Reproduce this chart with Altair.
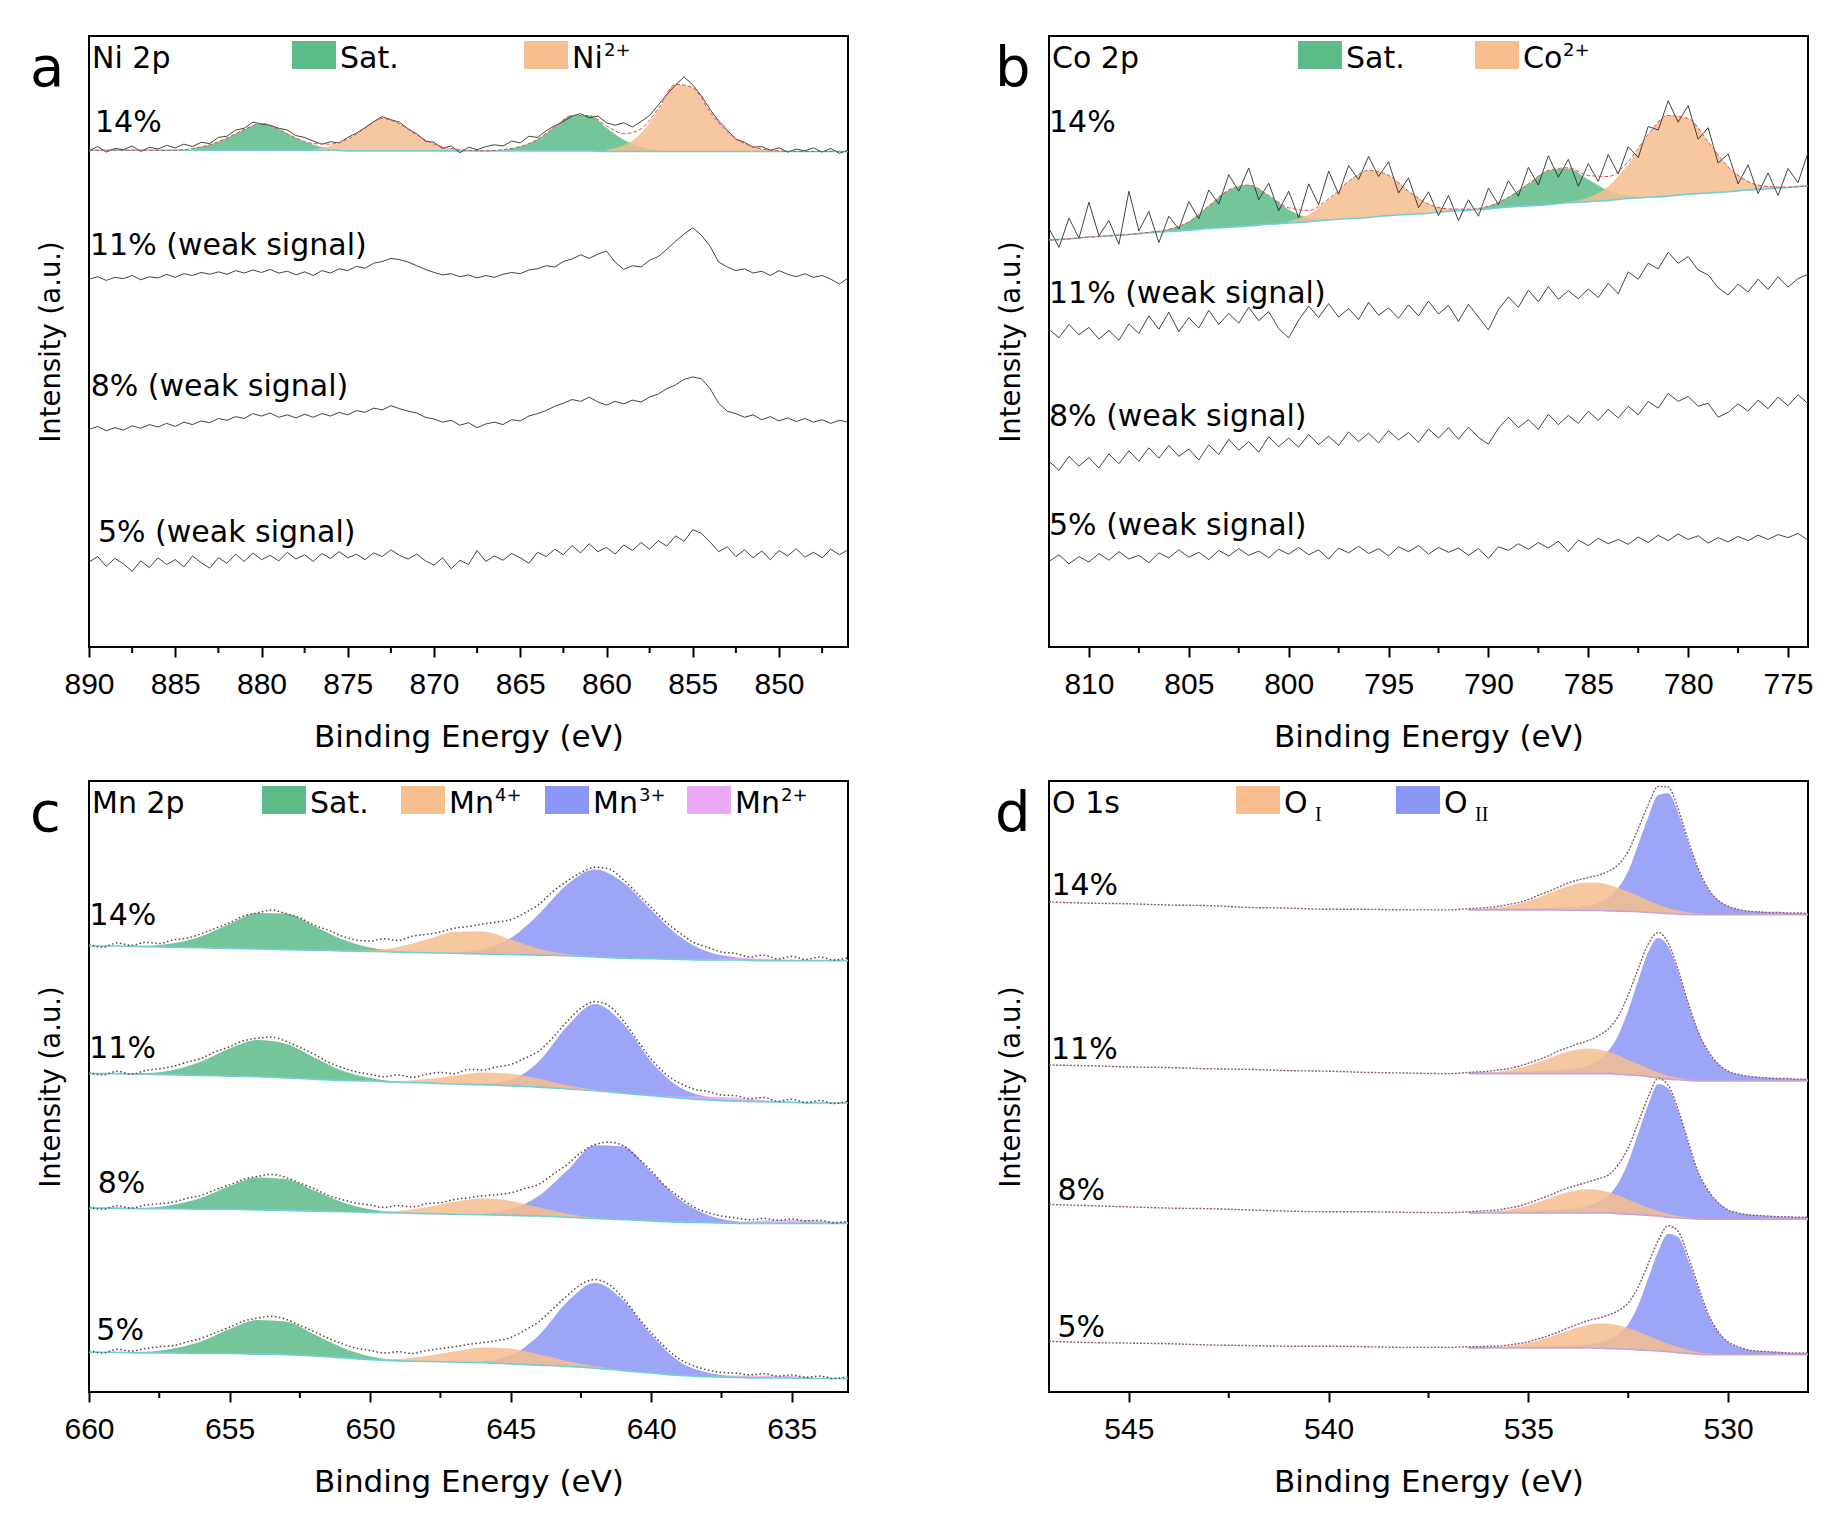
import altair as alt
import pandas as pd

# ======================= DATA (y in % of panel height) ===========
# ---------- Panel a: Ni 2p ----------
NI_RAW_X0, NI_RAW_STEP = 890.0, -0.5
NI14_RAW = [81.2, 81.9, 81.0, 81.6, 81.4, 82.0, 81.1, 81.8, 81.5, 82.1,
            81.7, 82.3, 81.9, 82.6, 82.4, 83.4, 83.6, 84.6, 84.9, 85.9,
            85.6, 85.4, 84.9, 84.6, 83.7, 83.4, 82.8, 82.3, 82.7, 82.5,
            83.4, 84.1, 85.0, 86.0, 86.8, 86.3, 85.9, 84.8, 84.0, 82.8,
            82.6, 81.6, 82.0, 80.9, 81.8, 81.4, 81.9, 82.2, 82.0, 82.8,
            82.5, 83.6, 83.4, 84.5, 85.3, 86.0, 86.9, 87.3, 86.6, 86.9,
            85.8, 85.4, 85.8, 85.1, 86.0, 87.0, 88.7, 90.4, 92.0, 93.3,
            92.0, 90.2, 88.0, 86.1, 84.6, 83.1, 82.6, 81.8, 81.9, 81.3,
            81.7, 81.0, 81.5, 81.2, 81.7, 81.0, 81.6, 80.8, 81.3]
NI11_RAW = [60.2, 60.6, 60.0, 60.5, 60.3, 60.8, 60.1, 60.6, 60.4, 61.0,
            60.5, 61.1, 60.8, 61.3, 61.0, 61.4, 61.0, 61.6, 61.2, 61.7,
            61.3, 61.8, 61.2, 61.5, 60.9, 61.4, 60.8, 61.6, 61.2, 61.9,
            61.6, 62.3, 62.0, 62.8, 63.1, 63.6, 63.4, 63.0, 62.4, 61.8,
            61.3, 60.9, 61.1, 60.6, 60.9, 60.4, 60.8, 60.5, 61.0, 61.3,
            61.1, 61.7, 61.9, 62.4, 62.2, 63.1, 63.5, 64.2, 63.6, 64.3,
            64.8, 63.0, 61.8, 62.4, 62.2, 63.3, 63.9, 65.1, 66.4, 67.6,
            68.6, 67.4, 65.6, 63.0, 62.2, 61.6, 61.9, 61.2, 61.5, 60.8,
            61.6, 61.0, 60.6, 61.1, 60.5, 60.8, 60.2, 59.4, 60.4]
NI8_RAW = [35.6, 36.1, 35.4, 35.9, 35.5, 36.2, 35.8, 36.4, 36.0, 36.6,
           36.1, 36.8, 36.4, 37.0, 36.7, 37.4, 37.1, 37.7, 37.4, 38.2,
           37.8, 38.3, 37.6, 38.0, 37.5, 38.1, 37.6, 38.2, 37.8, 38.4,
           38.0, 38.7, 38.4, 39.1, 38.8, 39.5, 39.0, 38.6, 38.3, 37.6,
           37.3, 36.8, 37.1, 36.3, 36.7, 35.9, 36.5, 36.8, 36.4, 37.2,
           37.0, 37.8, 38.2, 38.7, 39.4, 39.9, 40.5, 40.2, 40.9, 40.1,
           39.6, 40.2, 39.8, 40.4, 40.1, 40.9, 41.4, 42.3, 42.9, 43.8,
           44.2, 43.9, 42.3, 39.9, 38.6, 38.2, 37.6, 38.0, 37.2, 37.7,
           37.0, 37.5, 36.9, 37.4, 36.8, 37.2, 36.6, 37.1, 36.8]
NI5_RAW = [13.9, 14.8, 13.2, 14.5, 13.6, 12.4, 14.1, 13.0, 14.6, 13.5,
           14.3, 13.1, 14.9, 13.8, 12.9, 14.6, 13.7, 15.2, 14.0, 15.4,
           14.3, 15.0, 14.1, 15.5, 14.4, 15.1, 14.0, 15.3, 14.5, 15.6,
           14.6, 15.2, 14.3, 15.4, 14.8, 15.9, 15.0, 14.4, 15.2, 14.1,
           13.4, 14.6, 12.8, 14.2, 13.5, 15.8, 14.0, 14.9, 14.2, 15.3,
           14.6, 13.7, 15.5, 14.8, 16.0, 15.1, 16.6, 15.4, 16.9, 15.6,
           16.3, 15.2, 16.7, 15.8, 17.1, 16.0, 17.4, 16.5, 18.2, 17.3,
           19.2, 18.6, 17.2, 15.6, 16.4, 14.8, 15.9, 14.6, 15.7, 14.3,
           15.8, 14.9, 16.1, 14.7, 15.5, 14.6, 16.0, 15.1, 15.9]
NI_FIT_X0, NI_FIT_STEP = 890.0, -1.0
NI14_BG = [81.3, 81.3, 81.3, 81.3, 81.3, 81.3, 81.3, 81.3, 81.3, 81.3, 81.3, 81.3, 81.3, 81.3, 81.3,
           81.2, 81.2, 81.2, 81.2, 81.2, 81.2, 81.2, 81.2, 81.2, 81.2, 81.2, 81.2, 81.2, 81.2, 81.2,
           81.1, 81.1, 81.1, 81.1, 81.1, 81.1, 81.1, 81.1, 81.1, 81.1, 81.1, 81.1, 81.1, 81.1, 81.1]
NI14_SAT_1 = (884.0, [0.3, 0.9, 2.0, 3.4, 4.4, 3.4, 2.0, 0.9, 0.3, 0.1])
NI14_NI2_1 = (877.0, [0.2, 0.7, 1.8, 3.7, 5.3, 4.4, 2.6, 1.1, 0.4, 0.1])
NI14_SAT_2 = (866.0, [0.2, 0.7, 1.9, 3.9, 5.8, 5.8, 3.9, 1.9, 0.7, 0.2])
NI14_NI2_2 = (860.0, [0.3, 1.0, 3.0, 6.8, 11.0, 10.4, 6.5, 3.2, 1.3, 0.4, 0.1])

# ---------- Panel b: Co 2p ----------
CO_RAW_X0, CO_RAW_STEP = 812.0, -0.5
CO14_RAW = [68.5, 65.4, 70.2, 66.9, 72.8, 67.3, 69.8, 65.9, 74.6, 68.1,
            71.3, 66.2, 70.5, 68.4, 72.9, 70.1, 74.8, 72.5, 77.3, 74.6,
            78.4, 73.2, 75.9, 71.4, 74.6, 70.3, 75.8, 72.4, 77.9, 74.1,
            78.8, 76.5, 80.3, 77.0, 79.4, 74.3, 76.8, 71.9, 74.5, 70.6,
            73.9, 69.8, 73.2, 70.5, 75.1, 72.4, 76.3, 73.8, 78.5, 75.6,
            80.4, 76.9, 79.8, 75.4, 79.1, 76.2, 80.6, 77.4, 81.9, 80.1,
            85.2, 84.6, 89.4, 85.9, 88.6, 83.1, 85.0, 79.2, 80.7, 75.8,
            78.9, 74.2, 77.6, 73.9, 78.3, 76.0, 80.9]
CO11_RAW = [52.0, 50.6, 52.8, 51.1, 52.3, 50.4, 51.8, 50.2, 52.9, 51.3,
            54.2, 52.0, 54.8, 51.6, 53.9, 52.2, 55.1, 52.8, 54.6, 53.0,
            55.6, 53.4, 54.9, 52.1, 50.6, 53.5, 55.8, 53.9, 56.2, 54.0,
            55.4, 53.6, 56.4, 54.3, 55.5, 53.8, 56.0, 54.2, 56.6, 54.5,
            55.9, 53.3, 56.1, 54.0, 51.9, 55.2, 57.3, 55.6, 58.4, 56.5,
            59.0, 56.9, 58.3, 57.0, 58.6, 57.2, 59.5, 57.8, 61.4, 60.2,
            62.8, 61.9, 64.6, 62.8, 63.9, 61.7, 60.9, 58.8, 57.6, 59.4,
            58.1, 60.2, 58.5, 60.6, 58.9, 60.3, 61.0]
CO8_RAW = [30.4, 28.9, 31.2, 29.6, 31.0, 29.3, 31.6, 30.0, 32.1, 30.4,
           32.6, 30.9, 33.0, 31.2, 32.4, 30.6, 33.1, 31.5, 34.0, 32.2,
           33.6, 31.9, 34.4, 32.8, 34.2, 32.7, 34.8, 33.1, 34.5, 33.0,
           35.2, 33.6, 35.0, 33.4, 35.4, 33.9, 35.1, 33.5, 35.7, 34.2,
           35.9, 34.0, 36.0, 34.3, 33.2, 35.8, 37.6, 35.9, 37.2, 35.6,
           38.1, 36.4, 37.9, 36.6, 38.6, 37.1, 38.9, 37.5, 39.4, 38.0,
           40.2, 39.1, 41.5, 40.2, 41.0, 39.4, 39.9, 37.6, 38.4, 39.8,
           38.6, 40.4, 39.0, 40.9, 39.5, 41.3, 39.8]
CO5_RAW = [14.0, 15.1, 13.6, 14.8, 13.9, 15.3, 14.2, 15.6, 14.4, 15.0,
           13.8, 15.4, 14.6, 15.9, 14.7, 15.5, 14.3, 15.8, 14.9, 16.1,
           15.0, 15.7, 14.6, 16.0, 15.2, 16.3, 15.1, 15.9, 14.4, 16.2,
           15.4, 16.5, 15.3, 16.1, 14.9, 16.4, 15.6, 16.6, 15.2, 16.3,
           15.5, 16.2, 15.0, 16.1, 14.5, 16.4, 15.8, 16.9, 16.0, 17.1,
           16.2, 17.3, 15.6, 17.5, 16.6, 17.8, 16.9, 17.6, 16.8, 18.0,
           17.1, 18.3, 17.4, 18.5, 17.6, 18.2, 17.0, 17.9, 17.2, 18.1,
           17.4, 18.3, 17.6, 18.4, 17.9, 18.6, 17.5]
CO_FIT_X0, CO_FIT_STEP = 812.0, -1.0
CO14_BG = [66.6, 66.8, 67.1, 67.3, 67.5, 67.8, 68.0, 68.2, 68.5, 68.7, 68.9, 69.2, 69.4,
           69.6, 69.9, 70.1, 70.3, 70.6, 70.8, 71.0, 71.3, 71.5, 71.7, 72.0, 72.2, 72.4,
           72.7, 72.9, 73.1, 73.4, 73.6, 73.8, 74.1, 74.3, 74.5, 74.8, 75.0, 75.2, 75.5]
CO14_SAT_1 = (807.0, [0.06, 0.37, 1.4, 3.7, 6.1, 6.7, 4.7, 2.2, 0.66, 0.13])
CO14_CO2_1 = (800.0, [0.29, 1.2, 3.3, 6.1, 7.7, 6.6, 3.8, 1.5, 0.4, 0.07])
CO14_SAT_2 = (791.0, [0.09, 0.45, 1.6, 3.6, 5.6, 5.6, 3.6, 1.6, 0.45, 0.09])
CO14_CO2_2 = (786.0, [0.14, 0.66, 2.3, 5.6, 10.2, 13.2, 12.4, 8.4, 4.1, 1.4, 0.37, 0.07, 0.01])

# ---------- Panel c: Mn 2p ----------
MN_RAW_X0, MN_RAW_STEP = 660.0, -0.5
MN14_RAW = [73.3, 72.8, 73.5, 73.1, 73.6, 73.4, 74.0, 74.3, 75.0, 75.9,
            76.8, 77.9, 78.4, 78.9, 78.3, 77.6, 76.4, 75.6, 74.6, 74.0,
            73.8, 74.2, 73.9, 74.6, 74.9, 75.3, 75.9, 76.2, 76.6, 76.9,
            77.3, 78.4, 79.8, 81.9, 83.6, 85.0, 85.9, 85.6, 83.9, 81.6,
            79.3, 77.0, 75.2, 73.6, 72.8, 72.0, 71.8, 71.2, 71.5, 70.9,
            71.3, 70.8, 71.2, 70.7, 71.1]
MN11_RAW = [52.3, 51.9, 52.5, 52.0, 52.6, 52.9, 53.3, 54.0, 54.6, 55.7,
            56.5, 57.5, 57.9, 58.1, 57.4, 56.4, 55.3, 54.0, 53.1, 52.4,
            52.0, 51.6, 51.9, 51.5, 52.0, 52.3, 52.1, 52.8, 52.7, 53.2,
            53.6, 54.6, 55.8, 58.0, 60.6, 62.8, 63.9, 63.2, 60.8, 57.6,
            54.5, 52.1, 50.6, 49.6, 49.2, 48.6, 48.5, 48.0, 48.2, 47.6,
            47.9, 47.4, 47.7, 47.2, 47.6]
MN8_RAW = [30.3, 29.9, 30.5, 30.1, 30.6, 30.8, 31.1, 31.7, 32.2, 33.1,
           33.9, 34.8, 35.3, 35.6, 35.1, 34.2, 33.3, 32.2, 31.5, 30.9,
           30.6, 30.2, 30.5, 30.3, 30.8, 31.0, 31.5, 31.8, 32.1, 32.3,
           32.6, 33.3, 34.0, 35.6, 37.2, 39.2, 40.5, 40.9, 40.3, 38.4,
           36.2, 33.7, 31.9, 30.3, 29.4, 28.8, 28.5, 28.2, 28.4, 28.1,
           28.3, 28.0, 28.1, 27.7, 27.9]
MN5_RAW = [6.8, 6.4, 7.0, 6.7, 7.1, 7.4, 7.6, 8.2, 8.8, 9.7,
           10.6, 11.6, 12.1, 12.4, 11.9, 10.9, 9.9, 8.8, 7.9, 7.2,
           6.8, 6.4, 6.6, 6.3, 6.8, 7.1, 7.4, 7.8, 8.1, 8.4,
           8.9, 10.1, 11.5, 13.6, 15.7, 17.6, 18.4, 17.6, 15.4, 12.4,
           9.7, 7.3, 5.4, 4.3, 3.6, 3.2, 3.1, 2.8, 3.0, 2.6,
           2.8, 2.4, 2.6, 2.2, 2.5]
MN_FIT_X0, MN_FIT_STEP = 660.0, -1.0
MN14_BG = [73.0, 73.0, 72.9, 72.8, 72.7, 72.6, 72.5, 72.4, 72.3, 72.2, 72.1, 72.0, 71.9, 71.8,
           71.7, 71.6, 71.5, 71.4, 71.2, 71.0, 70.9, 70.8, 70.7, 70.7, 70.6, 70.6, 70.6, 70.6]
MN11_BG = [52.1, 52.1, 52.0, 51.9, 51.8, 51.7, 51.6, 51.4, 51.2, 51.0, 50.9, 50.7, 50.6, 50.4,
           50.3, 50.1, 49.9, 49.6, 49.3, 48.9, 48.5, 48.1, 47.8, 47.6, 47.5, 47.4, 47.3, 47.3]
MN8_BG = [30.1, 30.1, 30.0, 30.0, 29.9, 29.9, 29.8, 29.7, 29.6, 29.5, 29.4, 29.3, 29.2, 29.1,
          29.0, 28.9, 28.8, 28.6, 28.4, 28.2, 28.0, 27.8, 27.7, 27.6, 27.6, 27.6, 27.6, 27.6]
MN5_BG = [6.5, 6.5, 6.4, 6.4, 6.3, 6.3, 6.2, 6.1, 5.9, 5.6, 5.3, 5.1, 5.0, 4.9,
          4.8, 4.6, 4.4, 4.2, 3.9, 3.5, 3.1, 2.7, 2.5, 2.4, 2.3, 2.3, 2.2, 2.2]
MN14_SAT = (659.0, [0.02, 0.14, 0.64, 1.9, 4.0, 5.9, 5.9, 4.0, 1.9, 0.64, 0.14, 0.02])
MN14_MN4 = (651.0, [0.04, 0.21, 0.85, 2.15, 3.5, 3.67, 2.46, 1.06, 0.29, 0.05])
MN14_MN3 = (647.0, [0.16, 0.78, 2.7, 6.7, 11.6, 14.3, 12.4, 8.0, 3.8, 1.4, 0.45, 0.12, 0.03])
MN14_MN2 = (639.0, [0.05, 0.15, 0.32, 0.32, 0.15, 0.05, 0.01])
MN11_SAT = (659.0, [0.04, 0.2, 0.82, 2.3, 4.5, 6.0, 5.6, 3.6, 1.6, 0.5, 0.1, 0.02])
MN11_MN4 = (650.0, [0.04, 0.19, 0.62, 1.35, 2.0, 2.0, 1.35, 0.62, 0.19, 0.04])
MN11_MN3 = (646.0, [0.14, 1.0, 4.2, 10.2, 14.2, 11.4, 5.6, 1.8, 0.5, 0.12, 0.03])
MN11_MN2 = (640.0, [0.05, 0.25, 0.55, 0.55, 0.25, 0.05])
MN8_SAT = (659.0, [0.03, 0.16, 0.66, 1.9, 3.8, 5.3, 5.15, 3.4, 1.6, 0.5, 0.11, 0.02])
MN8_MN4 = (650.0, [0.09, 0.36, 1.05, 2.04, 2.67, 2.38, 1.43, 0.58, 0.16, 0.03])
MN8_MN3 = (646.0, [0.18, 0.95, 3.3, 7.6, 12.0, 12.0, 8.0, 3.8, 1.3, 0.35, 0.08])
MN8_MN2 = (638.0, [0.05, 0.2, 0.45, 0.55, 0.4, 0.2])
MN5_SAT = (659.0, [0.03, 0.17, 0.7, 2.0, 4.0, 5.6, 5.45, 3.6, 1.7, 0.53, 0.12, 0.02])
MN5_MN4 = (650.0, [0.08, 0.31, 0.88, 1.76, 2.5, 2.5, 1.76, 0.88, 0.31, 0.08])
MN5_MN3 = (646.0, [0.26, 1.4, 4.9, 10.5, 13.97, 11.5, 6.3, 2.3, 0.7, 0.15, 0.04])
MN5_MN2 = (638.0, [0.1, 0.3, 0.4, 0.3, 0.1, 0.03])

# ---------- Panel d: O 1s ----------
O_RAW_X = [547, 546, 545, 544, 543, 542, 541, 540, 539, 538, 537,
           536.5, 536.25, 536.0, 535.75, 535.5, 535.25, 535.0, 534.75, 534.5, 534.25,
           534.0, 533.75, 533.5, 533.25, 533.0, 532.75, 532.5, 532.25, 532.0, 531.75,
           531.5, 531.25, 531.0, 530.75, 530.5, 530.25, 530.0, 529.75, 529.5, 529.25,
           529.0, 528.75, 528.5, 528.25, 528.0]
O14_RAW = [80.2, 80.0, 79.9, 79.7, 79.6, 79.3, 79.2, 79.0, 79.0, 78.9, 78.9,
           79.1, 79.2, 79.3, 79.5, 79.8, 80.1, 80.6, 81.3, 81.9, 82.6, 83.3, 83.8, 84.2, 84.6,
           85.2, 86.3, 88.5, 92.2, 96.1, 99.1, 99.0, 95.4, 90.3, 85.7, 82.4, 80.5, 79.5, 79.0,
           78.7, 78.6, 78.5, 78.5, 78.4, 78.4, 78.3]
O11_RAW = [53.5, 53.4, 53.2, 53.1, 52.9, 52.8, 52.6, 52.5, 52.3, 52.2, 52.1,
           52.3, 52.4, 52.5, 52.7, 52.9, 53.3, 53.8, 54.4, 55.0, 55.8, 56.4, 57.0, 57.5, 58.3,
           59.4, 61.5, 65.0, 69.3, 73.3, 75.2, 73.5, 69.1, 63.7, 59.0, 55.8, 53.7, 52.5, 52.0,
           51.7, 51.5, 51.4, 51.3, 51.3, 51.2, 51.2]
O8_RAW = [30.7, 30.5, 30.3, 30.1, 30.0, 29.8, 29.6, 29.5, 29.5, 29.4, 29.35,
          29.5, 29.6, 29.7, 29.8, 30.1, 30.4, 30.9, 31.5, 32.1, 32.8, 33.4, 33.9, 34.4, 34.9,
          35.5, 37.2, 40.0, 44.1, 48.3, 51.3, 50.2, 46.2, 41.0, 36.0, 33.0, 31.0, 29.8, 29.3,
          29.0, 28.9, 28.8, 28.7, 28.7, 28.6, 28.6]
O5_RAW = [8.3, 8.1, 8.0, 7.9, 7.7, 7.6, 7.5, 7.5, 7.4, 7.3, 7.3,
          7.4, 7.4, 7.5, 7.5, 7.7, 7.9, 8.2, 8.7, 9.2, 9.8, 10.5, 11.1, 11.7, 12.1,
          12.6, 13.3, 14.6, 17.2, 21.0, 24.8, 27.2, 26.3, 22.2, 17.4, 12.8, 9.9, 8.2, 7.4,
          6.9, 6.7, 6.6, 6.5, 6.4, 6.4, 6.4]
O_FIT_X0, O_FIT_STEP = 536.5, -0.25
O14_BG = [78.9, 78.9, 78.9, 78.9, 78.9, 78.9, 78.9, 78.9, 78.9, 78.9, 78.85, 78.85, 78.8, 78.8,
          78.75, 78.7, 78.65, 78.6, 78.5, 78.4, 78.3, 78.2, 78.15, 78.1, 78.1, 78.1, 78.1, 78.1,
          78.1, 78.1, 78.1, 78.1, 78.1, 78.1, 78.1]
O14_OI = (536.5, [0.06, 0.12, 0.23, 0.4, 0.65, 1.0, 1.47, 2.05, 2.69, 3.34, 3.92, 4.36, 4.58,
                  4.55, 4.28, 3.81, 3.21, 2.56, 1.93, 1.37, 0.93, 0.59, 0.36, 0.2, 0.11, 0.05,
                  0.03, 0.01, 0, 0, 0, 0, 0, 0, 0])
O14_OII = (536.5, [0.16, 0.16, 0.18, 0.2, 0.22, 0.24, 0.26, 0.3, 0.34, 0.4, 0.5, 0.6, 0.8,
                   1.24, 2.1, 3.8, 6.6, 11.0, 15.6, 19.3, 19.7, 16.6, 11.8, 7.4, 4.2, 2.4, 1.4,
                   0.9, 0.64, 0.52, 0.42, 0.36, 0.3, 0.26, 0.22])
O11_BG = [52.1, 52.1, 52.1, 52.1, 52.1, 52.1, 52.1, 52.1, 52.1, 52.1, 52.1, 52.1, 52.1, 52.1,
          52.1, 52.0, 51.9, 51.8, 51.6, 51.4, 51.2, 51.1, 51.0, 50.9, 50.9, 50.9, 50.9, 50.9,
          50.9, 50.9, 50.9, 50.9, 50.9, 50.9, 50.9]
O11_OI = (536.5, [0.05, 0.09, 0.18, 0.33, 0.55, 0.89, 1.33, 1.88, 2.49, 3.1, 3.62, 3.97, 4.1,
                  3.97, 3.62, 3.1, 2.49, 1.88, 1.33, 0.89, 0.55, 0.33, 0.18, 0.09, 0.05, 0.02,
                  0, 0, 0, 0, 0, 0, 0, 0, 0])
O11_OII = (536.5, [0.19, 0.2, 0.22, 0.24, 0.27, 0.3, 0.34, 0.4, 0.46, 0.55, 0.71, 0.92, 1.33,
                   2.2, 3.7, 6.4, 10.6, 15.6, 20.4, 22.9, 21.7, 17.7, 12.5, 8.05, 4.8, 2.8, 1.6,
                   1.06, 0.78, 0.6, 0.5, 0.42, 0.36, 0.32, 0.28])
O8_BG = [29.3, 29.3, 29.3, 29.3, 29.3, 29.3, 29.3, 29.3, 29.3, 29.3, 29.3, 29.3, 29.3, 29.3,
         29.3, 29.2, 29.1, 29.0, 28.9, 28.8, 28.6, 28.5, 28.4, 28.3, 28.3, 28.3, 28.3, 28.3,
         28.3, 28.3, 28.3, 28.3, 28.3, 28.3, 28.3]
O8_OI = (536.5, [0.05, 0.09, 0.17, 0.31, 0.52, 0.85, 1.26, 1.79, 2.37, 2.95, 3.44, 3.78, 3.9,
                 3.78, 3.44, 2.95, 2.37, 1.79, 1.26, 0.85, 0.52, 0.31, 0.17, 0.09, 0.05, 0.02,
                 0, 0, 0, 0, 0, 0, 0, 0, 0])
O8_OII = (536.5, [0.18, 0.19, 0.21, 0.23, 0.26, 0.29, 0.33, 0.38, 0.44, 0.52, 0.66, 0.85, 1.2,
                  1.8, 2.8, 5.0, 8.5, 13.3, 18.1, 21.6, 21.1, 17.4, 12.4, 7.6, 4.6, 2.7, 1.5,
                  1.0, 0.74, 0.58, 0.48, 0.4, 0.35, 0.31, 0.27])
O5_BG = [7.2, 7.2, 7.2, 7.2, 7.2, 7.2, 7.2, 7.2, 7.2, 7.2, 7.2, 7.2, 7.2, 7.15, 7.1, 7.05, 7.0,
         6.9, 6.8, 6.7, 6.6, 6.45, 6.3, 6.2, 6.1, 6.1, 6.1, 6.1, 6.1, 6.1, 6.1, 6.1, 6.1, 6.1, 6.1]
O5_OI = (536.5, [0.02, 0.05, 0.1, 0.18, 0.32, 0.53, 0.82, 1.22, 1.72, 2.28, 2.86, 3.4, 3.82,
                 4.06, 4.08, 3.88, 3.49, 2.97, 2.39, 1.82, 1.31, 0.9, 0.58, 0.35, 0.2, 0.11,
                 0.06, 0.03, 0.01, 0, 0, 0, 0, 0, 0])
O5_OII = (536.5, [0.14, 0.14, 0.16, 0.16, 0.18, 0.2, 0.22, 0.25, 0.29, 0.35, 0.41, 0.51, 0.63,
                  0.86, 1.37, 2.35, 4.1, 7.3, 11.8, 16.3, 19.3, 18.9, 15.3, 10.8, 6.5, 3.7, 2.06,
                  1.22, 0.78, 0.59, 0.49, 0.39, 0.33, 0.29, 0.25])

# ---------- axis ticks and sample labels ----------
NI_MAJOR = [890, 885, 880, 875, 870, 865, 860, 855, 850]
NI_MINOR = [887.5, 882.5, 877.5, 872.5, 867.5, 862.5, 857.5, 852.5, 847.5]
CO_MAJOR = [810, 805, 800, 795, 790, 785, 780, 775]
CO_MINOR = [807.5, 802.5, 797.5, 792.5, 787.5, 782.5, 777.5]
MN_MAJOR = [660, 655, 650, 645, 640, 635]
MN_MINOR = [657.5, 652.5, 647.5, 642.5, 637.5]
O_MAJOR = [545, 540, 535, 530]
O_MINOR = [542.5, 537.5, 532.5]
NI_LABELS = ["14%", "11% (weak signal)", "8% (weak signal)", "5% (weak signal)"]
CO_LABELS = ["14%", "11% (weak signal)", "8% (weak signal)", "5% (weak signal)"]
MN_LABELS = ["14%", "11%", "8%", "5%"]
O_LABELS = ["14%", "11%", "8%", "5%"]

# ======================= STYLE / LAYOUT =======================
W, H = 759, 611
FONT = "DejaVu Sans"
LEG_SIZE = 30
LEG_BASE = 32
GREEN, ORANGE, BLUE, PINK = "#5cbc88", "#f6bd8e", "#8c96f4", "#e8a8f4"
FILL = {"Sat": GREEN, "Low": ORANGE, "Mid": BLUE, "Pink": PINK}
ONE = pd.DataFrame({"k": [0]})

NI_LABEL_POS = [(889.65, 84.3), (889.94, 64.2), (889.9, 41.1), (889.48, 17.2)]
CO_LABEL_POS = [(812.0, 84.3), (812.0, 56.3), (812.0, 36.2), (812.0, 18.3)]
MN_LABEL_POS = [(659.98, 76.5), (659.99, 54.6), (659.69, 32.5), (659.74, 8.5)]
O_LABEL_POS = [(546.94, 81.3), (546.95, 54.5), (546.79, 31.5), (546.79, 9.0)]


def raw_rows(xs, vals, key):
    return [{"x": x, "y": v, "key": key} for x, v in zip(xs, vals)]


def grid(x0, step, n):
    return [round(x0 + step * i, 3) for i in range(n)]


def comp_rows(x0, step, bg, comps, key):
    rows = []
    for name, (start, hs) in comps:
        for i, h in enumerate(hs):
            x = round(start + step * i, 3)
            k = int(round((x - x0) / step))
            rows.append({"x": x, "y": bg[k] + h, "y2": bg[k], "comp": name,
                         "key": f"{key}-{name}-{start}"})
    return rows


def env_rows(x0, step, bg, comps, key):
    tot = list(bg)
    for name, (start, hs) in comps:
        for i, h in enumerate(hs):
            k = int(round((start + step * i - x0) / step))
            tot[k] += h
    return [{"x": round(x0 + step * k, 3), "y": v, "key": key} for k, v in enumerate(tot)]


def ptext(txt, px, py, size, font=FONT):
    return alt.Chart(ONE).mark_text(text=txt, fontSize=size, font=font, align="left",
                                    baseline="alphabetic", color="black").encode(
        x=alt.value(px), y=alt.value(py))


def swatch(x0, color):
    return alt.Chart(ONE).mark_rect(color=color).encode(
        x=alt.value(x0), x2=alt.value(x0 + 44), y=alt.value(5), y2=alt.value(33))


def make_panel(dom, major, minor, raw_df, raw_style, comp_df, bg_df, bg_color, env_df,
               lab_df, letter, letter_x, header, legend):
    X = alt.X("x:Q", scale=alt.Scale(domain=dom, nice=False, zero=False),
              axis=alt.Axis(values=major, format="d", title="Binding Energy (eV)",
                            labelFlush=False, labelOverlap=False))
    Y = alt.Y("y:Q", scale=alt.Scale(domain=[0, 100], nice=False, zero=False),
              axis=alt.Axis(title="Intensity (a.u.)"))
    layers = []
    if comp_df is not None:
        for name in ["Sat", "Mid", "Low", "Pink"]:
            sub = comp_df[comp_df["comp"] == name]
            if len(sub):
                layers.append(alt.Chart(sub).mark_area(
                    interpolate="monotone", color=FILL[name], opacity=0.85).encode(
                    x=X, y=Y, y2="y2:Q", detail="key:N"))
    if bg_df is not None:
        layers.append(alt.Chart(bg_df).mark_line(
            color=bg_color, strokeWidth=1.6, interpolate="monotone").encode(
            x=X, y=Y, detail="key:N"))
    layers.append(alt.Chart(raw_df).mark_line(**raw_style).encode(x=X, y=Y, detail="key:N"))
    if env_df is not None:
        layers.append(alt.Chart(env_df).mark_line(
            color="#d9534f", strokeWidth=1, strokeDash=[4, 2], interpolate="monotone").encode(
            x=X, y=Y, detail="key:N"))
    layers.append(alt.Chart(lab_df).mark_text(
        align="left", baseline="alphabetic", font=FONT, fontSize=30, color="black").encode(
        x=X, y=Y, text="t:N"))
    layers.append(alt.Chart(pd.DataFrame({"x": minor})).mark_rule(
        color="black", strokeWidth=2).encode(x=X, y=alt.value(H), y2=alt.value(H + 6)))
    layers.append(ptext(letter, letter_x, 50, 56))
    layers.append(ptext(header, 3, LEG_BASE, LEG_SIZE))
    for x0, col, main, extra, kind, dx in legend:
        layers.append(swatch(x0, col))
        layers.append(ptext(main, x0 + 48, LEG_BASE, LEG_SIZE))
        if kind == "sup":
            layers.append(ptext(extra, x0 + 48 + dx, LEG_BASE - 12, 18))
        elif kind == "sub":
            layers.append(ptext(extra, x0 + 48 + dx, LEG_BASE + 8, 20, font="Liberation Serif"))
    return alt.layer(*layers).properties(width=W, height=H)


def labels_df(pos, texts):
    return pd.DataFrame({"x": [p[0] for p in pos], "y": [p[1] for p in pos], "t": texts})


# ---------- panel a ----------
ni_rx = grid(NI_RAW_X0, NI_RAW_STEP, len(NI14_RAW))
ni_raw = pd.DataFrame(raw_rows(ni_rx, NI14_RAW, "14") + raw_rows(ni_rx, NI11_RAW, "11")
                      + raw_rows(ni_rx, NI8_RAW, "8") + raw_rows(ni_rx, NI5_RAW, "5"))
ni_comps = [("Sat", NI14_SAT_1), ("Low", NI14_NI2_1), ("Sat", NI14_SAT_2), ("Low", NI14_NI2_2)]
ni_comp = pd.DataFrame(comp_rows(NI_FIT_X0, NI_FIT_STEP, NI14_BG, ni_comps, "14"))
ni_bg = pd.DataFrame(raw_rows(grid(NI_FIT_X0, NI_FIT_STEP, len(NI14_BG)), NI14_BG, "14"))
ni_env = pd.DataFrame(env_rows(NI_FIT_X0, NI_FIT_STEP, NI14_BG, ni_comps, "14"))
NOISY = dict(color="#2e2e2e", strokeWidth=0.9, interpolate="linear")
pa = make_panel([890, 846], NI_MAJOR, NI_MINOR, ni_raw, NOISY, ni_comp, ni_bg, "#74cdd3",
                ni_env, labels_df(NI_LABEL_POS, NI_LABELS), "a", -59, "Ni 2p",
                [(203, GREEN, "Sat.", None, None, 0), (435, ORANGE, "Ni", "2+", "sup", 32)])

# ---------- panel b ----------
co_rx = grid(CO_RAW_X0, CO_RAW_STEP, len(CO14_RAW))
co_raw = pd.DataFrame(raw_rows(co_rx, CO14_RAW, "14") + raw_rows(co_rx, CO11_RAW, "11")
                      + raw_rows(co_rx, CO8_RAW, "8") + raw_rows(co_rx, CO5_RAW, "5"))
co_comps = [("Sat", CO14_SAT_1), ("Low", CO14_CO2_1), ("Sat", CO14_SAT_2), ("Low", CO14_CO2_2)]
co_comp = pd.DataFrame(comp_rows(CO_FIT_X0, CO_FIT_STEP, CO14_BG, co_comps, "14"))
co_bg = pd.DataFrame(raw_rows(grid(CO_FIT_X0, CO_FIT_STEP, len(CO14_BG)), CO14_BG, "14"))
co_env = pd.DataFrame(env_rows(CO_FIT_X0, CO_FIT_STEP, CO14_BG, co_comps, "14"))
pb = make_panel([812, 774], CO_MAJOR, CO_MINOR, co_raw, NOISY, co_comp, co_bg, "#74cdd3",
                co_env, labels_df(CO_LABEL_POS, CO_LABELS), "b", -54, "Co 2p",
                [(249, GREEN, "Sat.", None, None, 0), (426, ORANGE, "Co", "2+", "sup", 40)])

# ---------- panel c ----------
mn_rx = grid(MN_RAW_X0, MN_RAW_STEP, len(MN14_RAW))
mn_gx = grid(MN_FIT_X0, MN_FIT_STEP, len(MN14_BG))
mn_sets = [("14", MN14_RAW, MN14_BG, [("Sat", MN14_SAT), ("Low", MN14_MN4), ("Mid", MN14_MN3), ("Pink", MN14_MN2)]),
           ("11", MN11_RAW, MN11_BG, [("Sat", MN11_SAT), ("Low", MN11_MN4), ("Mid", MN11_MN3), ("Pink", MN11_MN2)]),
           ("8", MN8_RAW, MN8_BG, [("Sat", MN8_SAT), ("Low", MN8_MN4), ("Mid", MN8_MN3), ("Pink", MN8_MN2)]),
           ("5", MN5_RAW, MN5_BG, [("Sat", MN5_SAT), ("Low", MN5_MN4), ("Mid", MN5_MN3), ("Pink", MN5_MN2)])]
mn_raw, mn_comp, mn_bg = [], [], []
for key, raw, bg, comps in mn_sets:
    mn_raw += raw_rows(mn_rx, raw, key)
    mn_bg += raw_rows(mn_gx, bg, key)
    mn_comp += comp_rows(MN_FIT_X0, MN_FIT_STEP, bg, comps, key)
DOTTED_MN = dict(color="#5a4040", strokeWidth=1.5, strokeDash=[1.5, 2.5], interpolate="monotone")
pc = make_panel([660, 633], MN_MAJOR, MN_MINOR, pd.DataFrame(mn_raw), DOTTED_MN,
                pd.DataFrame(mn_comp), pd.DataFrame(mn_bg), "#74cdd3", None,
                labels_df(MN_LABEL_POS, MN_LABELS), "c", -59, "Mn 2p",
                [(173, GREEN, "Sat.", None, None, 0), (312, ORANGE, "Mn", "4+", "sup", 46),
                 (456, BLUE, "Mn", "3+", "sup", 46), (598, PINK, "Mn", "2+", "sup", 46)])

# ---------- panel d ----------
o_gx = grid(O_FIT_X0, O_FIT_STEP, len(O14_BG))
o_sets = [("14", O14_RAW, O14_BG, [("Mid", O14_OII), ("Low", O14_OI)]),
          ("11", O11_RAW, O11_BG, [("Mid", O11_OII), ("Low", O11_OI)]),
          ("8", O8_RAW, O8_BG, [("Mid", O8_OII), ("Low", O8_OI)]),
          ("5", O5_RAW, O5_BG, [("Mid", O5_OII), ("Low", O5_OI)])]
o_raw, o_comp, o_bg = [], [], []
for key, raw, bg, comps in o_sets:
    o_raw += raw_rows(O_RAW_X, raw, key)
    o_bg += raw_rows(o_gx, bg, key)
    o_comp += comp_rows(O_FIT_X0, O_FIT_STEP, bg, comps, key)
DOTTED_O = dict(color="#8a5f72", strokeWidth=1.4, strokeDash=[2, 1.5], interpolate="monotone")
pd_ = make_panel([547, 528], O_MAJOR, O_MINOR, pd.DataFrame(o_raw), DOTTED_O,
                 pd.DataFrame(o_comp), pd.DataFrame(o_bg), "#c7a3d9", None,
                 labels_df(O_LABEL_POS, O_LABELS), "d", -54, "O 1s",
                 [(187, ORANGE, "O", "I", "sub", 31), (347, BLUE, "O", "II", "sub", 31)])

chart = alt.concat(pa, pb, pc, pd_, columns=2, spacing={"row": 134, "column": 201},
                   bounds="flush").properties(
    padding={"left": 21, "top": 27, "right": 10, "bottom": 10}
).configure_view(stroke="black", strokeWidth=2).configure_axisX(
    tickSize=10, tickWidth=2, tickColor="black", domain=False, grid=False,
    labelFont="Liberation Sans", labelFontSize=30, labelColor="black", labelPadding=12,
    titleFont=FONT, titleFontSize=31, titleFontWeight="normal", titleColor="black",
    titlePadding=23
).configure_axisY(
    labels=False, ticks=False, domain=False, grid=False,
    titleFont=FONT, titleFontSize=27.5, titleFontWeight="normal", titleColor="black",
    titlePadding=24
)

chart.save("out.html", embed_options={"renderer": "svg", "actions": False})
